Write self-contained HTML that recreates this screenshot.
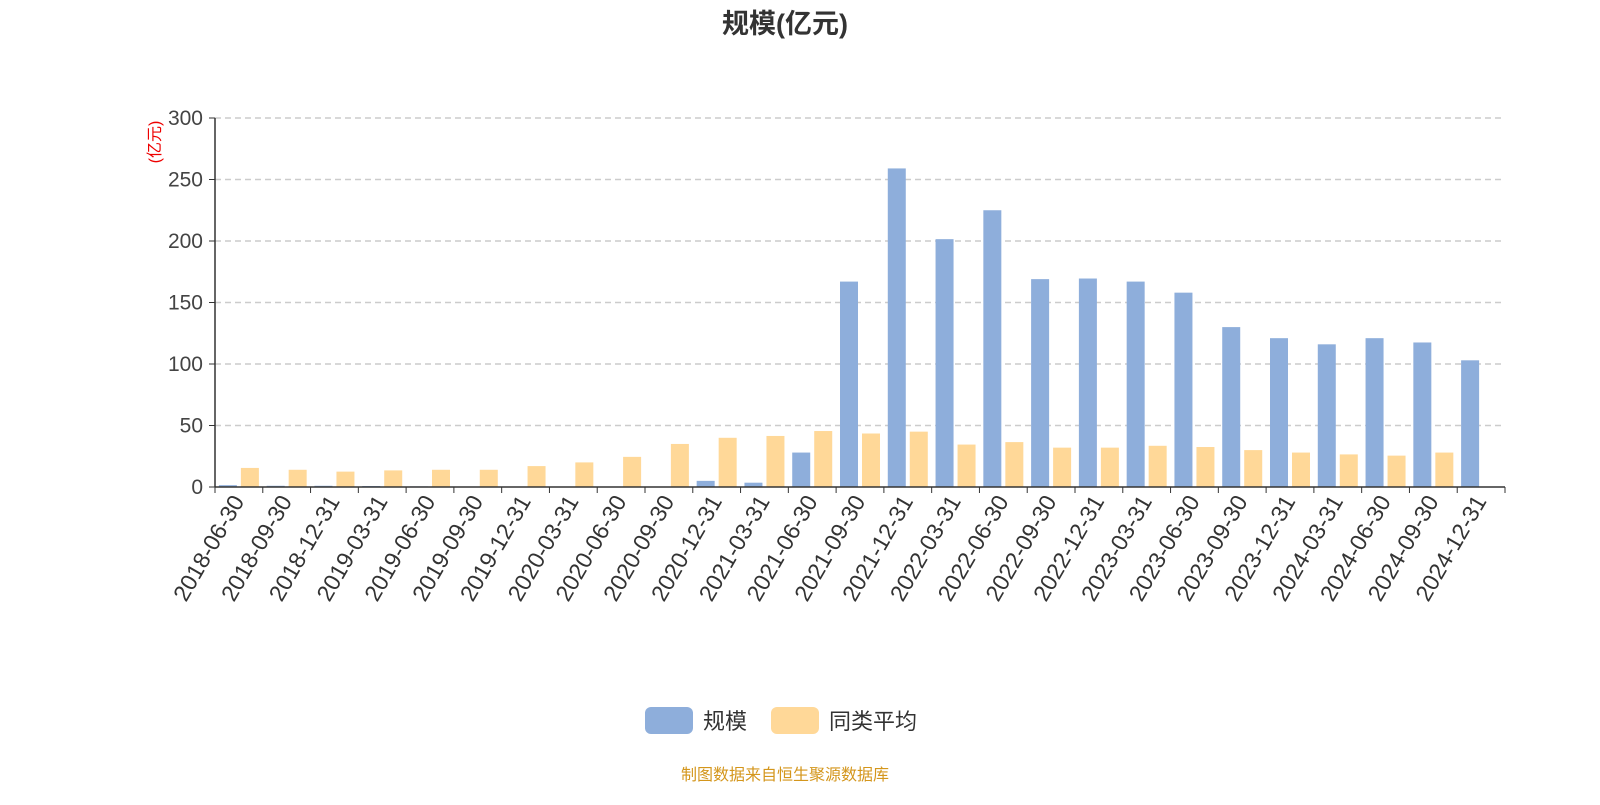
<!DOCTYPE html>
<html><head><meta charset="utf-8"><style>
body{margin:0;background:#fff;width:1600px;height:800px;overflow:hidden;font-family:"Liberation Sans","Noto Sans CJK SC",sans-serif}
</style></head><body>
<svg id="chart" width="1600" height="800" xmlns="http://www.w3.org/2000/svg" font-family="Liberation Sans, Noto Sans CJK SC, sans-serif">
<text x="785" y="33" text-anchor="middle" font-size="27" font-weight="bold" fill="#333">规模(亿元)</text>
<text transform="translate(160,142) rotate(-90)" text-anchor="middle" font-size="16" fill="#e00">(亿元)</text>
<g id="grid"></g><g id="bars"></g><g id="axes"></g>
<g>
<g><rect x="645" y="707" width="48" height="27" rx="6" fill="#8eaedb"/><text x="703" y="729" font-size="22" fill="#333">规模</text></g>
<g><rect x="771" y="707" width="48" height="27" rx="6" fill="#ffd898"/><text x="829" y="729" font-size="22" fill="#333">同类平均</text></g>
</g>
<text x="785" y="780" text-anchor="middle" font-size="16" fill="#d4961c">制图数据来自恒生聚源数据库</text>
</svg>
<script>
const categories=["2018-06-30","2018-09-30","2018-12-31","2019-03-31","2019-06-30","2019-09-30","2019-12-31","2020-03-31","2020-06-30","2020-09-30","2020-12-31","2021-03-31","2021-06-30","2021-09-30","2021-12-31","2022-03-31","2022-06-30","2022-09-30","2022-12-31","2023-03-31","2023-06-30","2023-09-30","2023-12-31","2024-03-31","2024-06-30","2024-09-30","2024-12-31"];
const scaleValues=[1.5,1,1,0.8,0.5,0.3,0.2,0.2,0.2,0.2,5,3.5,28,167,259,201.5,225,169,169.5,167,158,130,121,116,121,117.5,103];
const peerValues=[15.5,14,12.5,13.5,14,14,17,20,24.5,35,40,41.5,45.5,43.5,45,34.5,36.5,32,32,33.5,32.5,30,28,26.5,25.5,28,null];
const yTicks=[0,50,100,150,200,250,300];
const NS="http://www.w3.org/2000/svg";
const x0=215,x1=1505,y0=487,yTop=118,yMax=300;
const band=(x1-x0)/categories.length;
const yS=v=>y0-(v/yMax)*(y0-yTop);
const xC=i=>x0+band*(i+0.5);
function mk(tag,attrs,parent){const e=document.createElementNS(NS,tag);for(const k in attrs)e.setAttribute(k,attrs[k]);parent.appendChild(e);return e;}
const grid=document.getElementById('grid'),bars=document.getElementById('bars'),axes=document.getElementById('axes');
yTicks.forEach(t=>{
  if(t>0){const l=mk('line',{x1:x0,x2:x1,y1:yS(t),y2:yS(t),stroke:'#ccc','stroke-dasharray':'6,4','stroke-width':1.5},grid);
  
  }
  const tk=mk('line',{x1:x0-6,x2:x0,y1:yS(t),y2:yS(t),stroke:'#333'},axes);
  
  
  const tx=mk('text',{x:x0-12,y:yS(t)+7,'text-anchor':'end','font-size':21,fill:'#444'},axes);
  tx.textContent=t;
  
  
});
const ya=mk('line',{x1:x0,x2:x0,y1:yTop,y2:y0,stroke:'#333','stroke-width':1.5},axes);


const xa=mk('line',{x1:x0,x2:x1,y1:y0,y2:y0,stroke:'#333','stroke-width':1.5},axes);


const bw=18;
categories.forEach((c,i)=>{
  const cx=xC(i);
  const tk=mk('line',{x1:x0+band*i,x2:x0+band*i,y1:y0,y2:y0+6,stroke:'#333'},axes);
  
  
  const v=scaleValues[i];
  if(v!=null){const r=mk('rect',{x:cx-bw-2,y:yS(v),width:bw,height:y0-yS(v),fill:'#8eaedb'},bars);
  
  }
  const p=peerValues[i];
  if(p!=null){const r=mk('rect',{x:cx+2,y:yS(p),width:bw,height:y0-yS(p),fill:'#ffd898'},bars);
  
  }
  const t=mk('text',{transform:`translate(${cx+6},${y0+14}) rotate(-60)`,'text-anchor':'end','font-size':23,fill:'#333'},axes);
  t.textContent=c;
  
  
});
const lt=mk('line',{x1:x1,x2:x1,y1:y0,y2:y0+6,stroke:'#333'},axes);


</script>
</body></html>
